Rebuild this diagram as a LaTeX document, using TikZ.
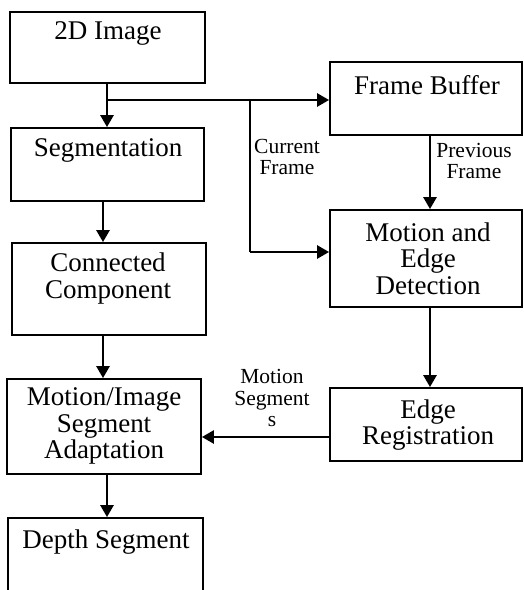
\documentclass[tikz,border=0pt]{standalone}
\usepackage{fontspec}
\setmainfont{Liberation Serif}
\usetikzlibrary{arrows.meta}
\tikzset{
  box/.style={draw=black, line width=1.8pt, rectangle, inner sep=0pt, fill=white},
  btext/.style={font=\fontsize{27}{26.5}\selectfont, align=center, inner sep=0pt, text=black},
  ltext/.style={font=\fontsize{21.5}{21.5}\selectfont, align=center, inner sep=0pt, text=black},
  arr/.style={line width=2.6pt, -{Triangle[length=12pt,width=13pt]}},
  ln/.style={line width=2.6pt}
}
\begin{document}
\begin{tikzpicture}[x=1pt,y=-1pt]
\clip (0,0) rectangle (524,590);
\useasboundingbox (0,0) rectangle (524,590);
\fill[white] (0,0) rectangle (524,590);
% boxes
\node[box, minimum width=195pt, minimum height=71pt] (img) at (107.5,47.5) {};
\node[box, minimum width=193pt, minimum height=73pt] (seg) at (107.5,164.5) {};
\node[box, minimum width=194pt, minimum height=92pt] (cc) at (109,289) {};
\node[box, minimum width=194pt, minimum height=95pt] (mia) at (104,426.5) {};
\node[box, minimum width=195pt, minimum height=102pt] (ds) at (105.5,569) {};
\node[box, minimum width=192pt, minimum height=73pt] (fb) at (426,98.5) {};
\node[box, minimum width=192pt, minimum height=97pt] (med) at (426,258.5) {};
\node[box, minimum width=192pt, minimum height=73pt] (er) at (426,424.5) {};
% box texts
\node[btext] (timg) at (108,33) {2D Image};
\node[btext] (tseg) at (108,150) {Segmentation};
\node[btext] (tcc) at (108,278.5) {Connected\\Component};
\node[btext] (tmia) at (104,426) {Motion/Image\\Segment\\Adaptation};
\node[btext] (tds) at (106,542) {Depth Segment};
\node[btext] (tfb) at (427,85) {Frame Buffer};
\node[btext] (tmed) at (428,258.5) {Motion and\\Edge\\Detection};
\node[btext] (ter) at (428,425) {Edge\\Registration};
% connector points
\coordinate (j) at (107,100);
\coordinate (c1) at (250,100);
\coordinate (c2) at (250,252);
\coordinate (e1) at (330,437);
% connectors
\draw[arr] (img.south -| j) -- (seg.north -| j);
\draw[arr] (j) -- (j -| fb.west);
\draw[ln] (c1) -- (c2);
\draw[arr] (c2) -- (c2 -| med.west);
\draw[arr] ([xshift=4pt]fb.south) -- ([xshift=4pt]med.north);
\draw[arr] ([xshift=4pt]med.south) -- ([xshift=4pt]er.north);
\draw[arr] (seg.south -| 103,0) -- (cc.north -| 103,0);
\draw[arr] (cc.south -| 103,0) -- (mia.north -| 103,0);
\draw[arr] (mia.south -| 107,0) -- (ds.north -| 107,0);
\draw[arr] (e1) -- (e1 -| mia.east);
% connector labels
\node[ltext] (lcur) at (287,157) {Current\\Frame};
\node[ltext] (lprev) at (474,161) {Previous\\Frame};
\node[ltext] (lms) at (272,398) {Motion\\Segment\\s};
\end{tikzpicture}
\end{document}
